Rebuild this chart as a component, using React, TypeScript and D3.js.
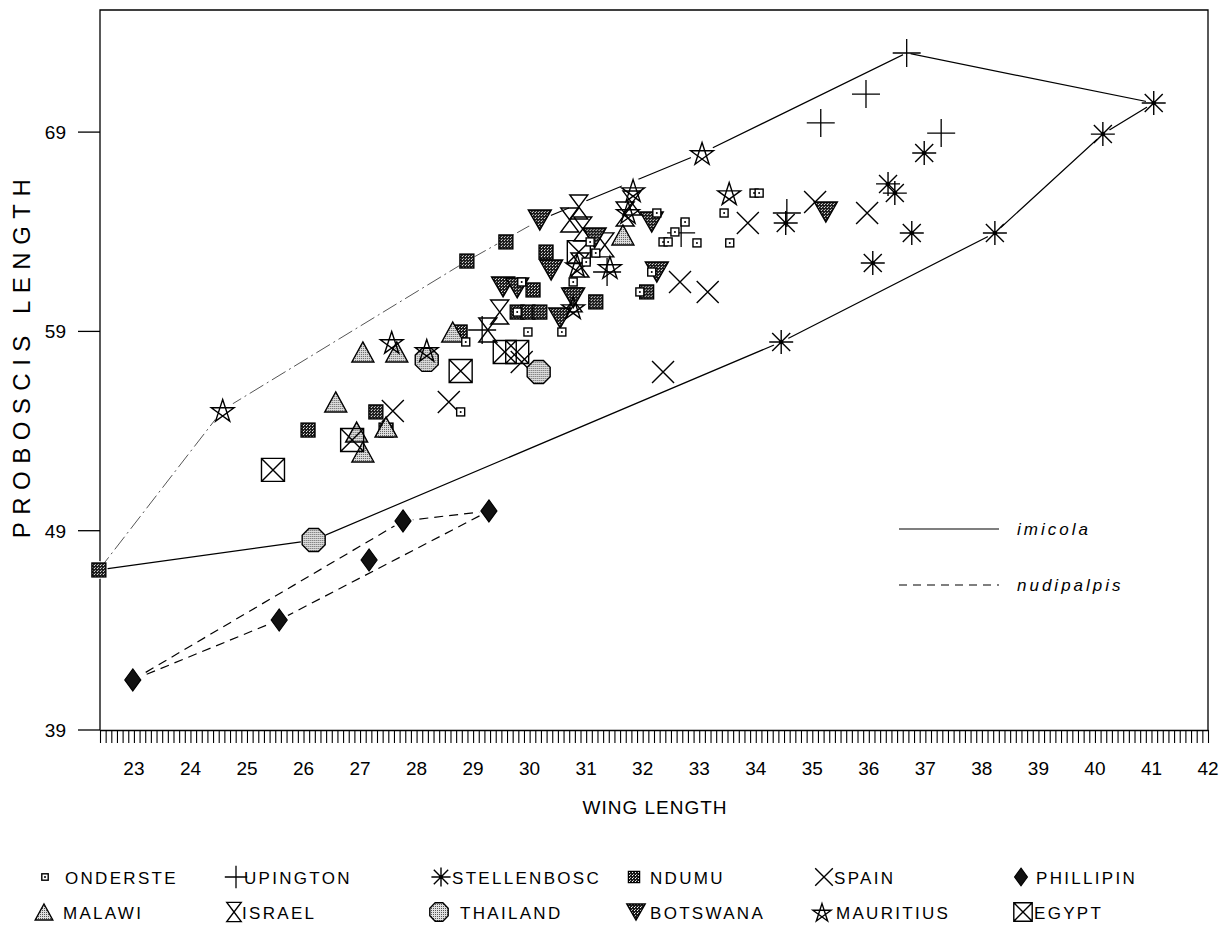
import React, { useEffect, useRef } from "react";
import * as d3 from "d3";

// wing length / proboscis length pairs
const onderste = [
  [33.97, 65.94], [34.06, 65.94], [33.44, 64.94], [33.54, 63.44], [32.96, 63.44],
  [32.36, 63.49], [32.45, 63.49], [32.75, 64.49], [32.57, 63.99], [32.25, 64.94],
  [32.16, 61.98], [31.95, 60.98], [31.07, 63.49], [31.17, 62.93], [31.0, 62.48],
  [30.77, 61.48], [29.86, 61.48], [29.78, 59.97], [29.97, 58.97], [30.57, 58.97],
  [28.87, 58.47], [28.78, 54.96],
];
const upington = [
  [36.67, 72.97], [35.95, 70.91], [35.15, 69.46], [37.28, 68.95], [34.55, 64.94],
  [32.68, 63.94], [31.37, 61.98], [29.16, 59.07],
];
const stellenbosc = [
  [41.04, 70.46], [40.14, 68.9], [36.98, 67.95], [36.34, 66.4], [36.46, 65.94],
  [36.76, 63.94], [36.07, 62.43], [38.23, 63.94], [34.53, 64.44], [34.45, 58.47],
];
const ndumu = [
  [22.38, 47.03], [26.08, 54.05], [27.28, 54.96], [27.46, 54.05], [28.77, 58.97],
  [28.89, 62.53], [29.58, 63.49], [30.29, 62.98], [30.06, 61.08], [29.78, 59.97],
  [29.97, 59.97], [30.18, 59.97], [31.17, 60.48], [32.07, 60.98],
];
const spain = [
  [33.86, 64.44], [35.05, 65.49], [35.97, 64.94], [32.66, 61.48], [33.15, 60.98],
  [32.36, 56.96], [29.86, 57.46], [28.57, 55.46], [27.58, 55.01],
];
const phillipin = [
  [22.98, 41.51], [25.57, 44.52], [27.16, 47.53], [27.76, 49.49], [29.28, 49.99],
];
const malawi = [
  [27.05, 57.97], [27.65, 57.97], [28.64, 58.97], [26.57, 55.46], [26.94, 53.95],
  [27.05, 52.95], [31.65, 63.84], [27.46, 54.2],
];
const israel = [
  [30.87, 65.24], [30.71, 64.59], [30.94, 64.14], [31.33, 63.34], [30.89, 62.33],
  [29.47, 59.97], [29.26, 59.07], [31.81, 65.44], [31.69, 64.89], [30.77, 60.58],
];
const thailand = [[26.18, 48.53], [28.18, 57.57], [30.16, 56.96]];
const botswana = [
  [30.18, 64.59], [30.38, 62.08], [31.15, 63.69], [32.16, 64.49], [32.25, 61.98],
  [29.53, 61.23], [29.78, 61.18], [30.77, 60.68], [30.54, 59.67], [35.24, 64.99],
];
const mauritius = [
  [24.57, 55.06], [27.56, 58.47], [28.18, 58.07], [33.05, 67.95], [33.53, 65.94],
  [31.83, 66.09], [31.74, 64.99], [31.42, 62.23], [30.84, 62.33], [30.77, 60.22],
];
const egypt = [
  [25.46, 52.05], [26.86, 53.55], [28.78, 57.01], [29.56, 57.97], [29.78, 57.97],
  [30.87, 62.98],
];

// envelopes drawn round each species
const imicolaFaint = [[22.38, 47.03], [24.57, 55.06], [28.89, 62.53], [30.18, 64.59]];
const imicolaSolid = [
  [30.18, 64.59], [33.05, 67.95], [36.67, 72.97], [41.04, 70.46], [40.14, 68.9],
  [38.23, 63.94], [34.45, 58.47], [26.18, 48.53], [22.38, 47.03],
];
const nudiLower = [[22.98, 41.51], [25.57, 44.52], [29.28, 49.99]];
const nudiUpper = [[22.98, 41.51], [27.76, 49.49], [29.28, 49.99]];

const xLabels = d3.range(23, 43);
const yLabels = [39, 49, 59, 69];

const legendRow1 = ["ONDERSTE", "UPINGTON", "STELLENBOSC", "NDUMU", "SPAIN", "PHILLIPIN"];
const legendRow2 = ["MALAWI", "ISRAEL", "THAILAND", "BOTSWANA", "MAURITIUS", "EGYPT"];

const FONT = "'Liberation Sans', Arial, Helvetica, sans-serif";

const stroke = (sel, w = 1.4) => sel.attr("stroke", "#000").attr("stroke-width", w);

// marker shapes, k scales the size
const SHAPES = {
  onderste: {
    ko: 7,
    draw: (g, k) => {
      const s = 8 * k;
      stroke(g.append("rect").attr("x", -s / 2).attr("y", -s / 2).attr("width", s).attr("height", s).attr("fill", "#fff"), 1.4);
      g.append("circle").attr("r", 1).attr("fill", "#000");
    },
  },
  upington: {
    ko: 4,
    draw: (g, k) => {
      const h = 14 * k;
      stroke(g.append("path").attr("d", `M${-h},0H${h}M0,${-h}V${h}`).attr("fill", "none"), 1.3);
    },
  },
  stellenbosc: {
    ko: 8,
    draw: (g, k) => {
      const h = 12 * k, d = h * 0.75;
      stroke(g.append("path").attr("d", `M${-h},0H${h}M0,${-h}V${h}M${-d},${-d}L${d},${d}M${-d},${d}L${d},${-d}`).attr("fill", "none"), 1.4);
      g.append("circle").attr("r", 2.2 * k).attr("fill", "#000");
    },
  },
  ndumu: {
    ko: 9,
    draw: (g, k) => {
      const s = 14 * k;
      stroke(g.append("rect").attr("x", -s / 2).attr("y", -s / 2).attr("width", s).attr("height", s).attr("fill", "url(#dark)"), 1.3);
    },
  },
  spain: {
    ko: 6,
    draw: (g, k) => {
      const h = 11 * k;
      stroke(g.append("path").attr("d", `M${-h},${-h}L${h},${h}M${-h},${h}L${h},${-h}`).attr("fill", "none"), 1.4);
    },
  },
  phillipin: {
    ko: 10,
    draw: (g, k) => {
      const w = 8 * k, h = 11 * k;
      stroke(g.append("path").attr("d", `M0,${-h}L${w},0L0,${h}L${-w},0Z`).attr("fill", "#111"), 1.2);
    },
  },
  malawi: {
    ko: 12,
    draw: (g, k) => {
      const w = 11 * k, h = 10 * k;
      stroke(g.append("path").attr("d", `M0,${-h}L${w},${h}L${-w},${h}Z`).attr("fill", "url(#light)"), 1.4);
    },
  },
  israel: {
    ko: 10,
    draw: (g, k) => {
      const w = 9 * k, h = 12 * k;
      stroke(g.append("path").attr("d", `M${-w},${-h}H${w}L${-w},${h}H${w}Z`).attr("fill", "none"), 1.4);
    },
  },
  thailand: {
    ko: 13,
    draw: (g, k) => {
      const r = 11.5 * k / Math.cos(Math.PI / 8);
      const pts = d3.range(8).map((i) => {
        const a = Math.PI / 8 + (i * Math.PI) / 4;
        return [r * Math.cos(a), r * Math.sin(a)];
      });
      stroke(g.append("path").attr("d", d3.line()(pts) + "Z").attr("fill", "url(#light)"), 1.4);
    },
  },
  botswana: {
    ko: 12,
    draw: (g, k) => {
      const w = 11.5 * k, h = 10 * k;
      stroke(g.append("path").attr("d", `M${-w},${-h}H${w}L0,${h}Z`).attr("fill", "url(#dark)"), 1.4);
    },
  },
  mauritius: {
    ko: 12,
    draw: (g, k) => {
      const r = 12 * k;
      const pts = d3.range(5).map((i) => {
        const a = -Math.PI / 2 + (i * 4 * Math.PI) / 5;
        return [r * Math.cos(a), r * Math.sin(a) + 1.5 * k];
      });
      stroke(g.append("path").attr("d", d3.line()(pts) + "Z").attr("fill", "none"), 1.4);
    },
  },
  egypt: {
    ko: 14,
    draw: (g, k) => {
      const s = 11.5 * k;
      stroke(g.append("path").attr("d", `M${-s},${-s}H${s}V${s}H${-s}ZM${-s},${-s}L${s},${s}M${-s},${s}L${s},${-s}`).attr("fill", "none"), 1.4);
    },
  },
};

const SERIES = [
  { key: "upington", pts: upington },
  { key: "stellenbosc", pts: stellenbosc },
  { key: "ndumu", pts: ndumu },
  { key: "spain", pts: spain },
  { key: "phillipin", pts: phillipin },
  { key: "malawi", pts: malawi },
  { key: "israel", pts: israel },
  { key: "thailand", pts: thailand },
  { key: "botswana", pts: botswana },
  { key: "mauritius", pts: mauritius },
  { key: "egypt", pts: egypt },
  { key: "onderste", pts: onderste },
];

// legend layout: symbol centre and text start per row
const legendSymX = [[45, 236, 441, 634, 824, 1021], [44, 234, 439, 636, 822, 1023]];
const legendTextX = [[65, 244, 452, 650, 834, 1036], [63, 242, 460, 650, 836, 1034]];

const App = () => {
  const svgRef = useRef(null);

  useEffect(() => {
    const svg = d3.select(svgRef.current);
    svg.selectAll("*").remove();

    const x = d3.scaleLinear().domain([22.4, 42]).range([100, 1208]);
    const y = d3.scaleLinear().domain([39, 69]).range([730, 132.1]);
    const top = 10;

    const defs = svg.append("defs");
    const dark = defs.append("pattern").attr("id", "dark").attr("width", 3).attr("height", 3).attr("patternUnits", "userSpaceOnUse");
    dark.append("rect").attr("width", 3).attr("height", 3).attr("fill", "#1a1a1a");
    dark.append("rect").attr("x", 1).attr("y", 1).attr("width", 1).attr("height", 1).attr("fill", "#fff");
    dark.append("rect").attr("x", 2).attr("y", 0).attr("width", 1).attr("height", 1).attr("fill", "#bbb");
    const light = defs.append("pattern").attr("id", "light").attr("width", 2).attr("height", 2).attr("patternUnits", "userSpaceOnUse");
    light.append("rect").attr("width", 2).attr("height", 2).attr("fill", "#e0e0e0");
    light.append("rect").attr("width", 1).attr("height", 1).attr("fill", "#555");

    // frame
    svg.append("path")
      .attr("d", `M${x(22.4)},${y(39)}V${top}H${x(42)}V${y(39)}`)
      .attr("fill", "none").attr("stroke", "#000").attr("stroke-width", 1.3);

    // x axis with 0.1 ticks
    const xAxis = svg.append("g")
      .attr("transform", `translate(0,${y(39)})`)
      .call(
        d3.axisBottom(x)
          .tickValues(d3.range(224, 421).map((d) => d / 10))
          .tickSize(13)
          .tickSizeOuter(0)
          .tickFormat(() => "")
      );
    xAxis.select(".domain").attr("stroke-width", 1.4);
    xAxis.selectAll(".tick line").attr("stroke-width", 1.1);

    svg.append("g").selectAll("text").data(xLabels).join("text")
      .attr("x", (d) => x(d)).attr("y", 775)
      .attr("text-anchor", "middle")
      .attr("font-family", FONT).attr("font-size", 19)
      .text((d) => d);

    // y ticks
    svg.append("g").selectAll("line").data(yLabels).join("line")
      .attr("x1", 78).attr("x2", x(22.4))
      .attr("y1", (d) => y(d)).attr("y2", (d) => y(d))
      .attr("stroke", "#000").attr("stroke-width", 1.3);
    svg.append("g").selectAll("text").data(yLabels).join("text")
      .attr("x", 66).attr("y", (d) => y(d) + 7)
      .attr("text-anchor", "end")
      .attr("font-family", FONT).attr("font-size", 19)
      .text((d) => d);

    // axis titles
    svg.append("text")
      .attr("x", 655).attr("y", 814)
      .attr("text-anchor", "middle")
      .attr("font-family", FONT).attr("font-size", 19).attr("letter-spacing", 1)
      .text("WING LENGTH");
    svg.append("text")
      .attr("transform", "translate(30,355) rotate(-90)")
      .attr("text-anchor", "middle")
      .attr("font-family", FONT).attr("font-size", 24).attr("letter-spacing", 7.5)
      .text("PROBOSCIS LENGTH");

    // envelopes
    const line = d3.line().x((d) => x(d[0])).y((d) => y(d[1]));
    svg.append("path").attr("d", line(imicolaSolid))
      .attr("fill", "none").attr("stroke", "#000").attr("stroke-width", 1.2);
    svg.append("path").attr("d", line(imicolaFaint))
      .attr("fill", "none").attr("stroke", "#555").attr("stroke-width", 1)
      .attr("stroke-dasharray", "16 4 2 4");
    [nudiLower, nudiUpper].forEach((pts) => {
      svg.append("path").attr("d", line(pts))
        .attr("fill", "none").attr("stroke", "#000").attr("stroke-width", 1.2)
        .attr("stroke-dasharray", "9 6");
    });

    // white gaps round markers
    const ko = svg.append("g");
    SERIES.forEach((s) => {
      ko.selectAll(null).data(s.pts).join("circle")
        .attr("cx", (d) => x(d[0])).attr("cy", (d) => y(d[1]))
        .attr("r", SHAPES[s.key].ko).attr("fill", "#fff");
    });

    // markers
    SERIES.forEach((s) => {
      s.pts.forEach((d) => {
        const g = svg.append("g").attr("transform", `translate(${x(d[0])},${y(d[1])})`);
        SHAPES[s.key].draw(g, 1);
      });
    });

    // species legend inside plot
    const sp = [["imicola", null], ["nudipalpis", "8 6"]];
    sp.forEach(([name, dash], i) => {
      const yy = 529 + i * 56;
      svg.append("line").attr("x1", 899).attr("x2", 999).attr("y1", yy).attr("y2", yy)
        .attr("stroke", "#000").attr("stroke-width", 1.2)
        .attr("stroke-dasharray", dash);
      svg.append("text").attr("x", 1017).attr("y", yy + 6)
        .attr("font-family", FONT).attr("font-size", 17).attr("font-style", "italic")
        .attr("letter-spacing", 3)
        .text(name);
    });

    // locality legend
    [legendRow1, legendRow2].forEach((row, r) => {
      const yy = 877 + r * 35;
      row.forEach((name, c) => {
        const key = name.toLowerCase();
        const g = svg.append("g").attr("transform", `translate(${legendSymX[r][c]},${yy})`);
        SHAPES[key].draw(g, 0.8);
        svg.append("text").attr("x", legendTextX[r][c]).attr("y", yy + 7)
          .attr("font-family", FONT).attr("font-size", 17).attr("letter-spacing", 2.3)
          .text(name);
      });
    });
  }, []);

  return (
    <svg
      ref={svgRef}
      width={1224}
      height={928}
      style={{ position: "absolute", left: 0, top: 0, background: "#fff" }}
    ></svg>
  );
};

export default App;
